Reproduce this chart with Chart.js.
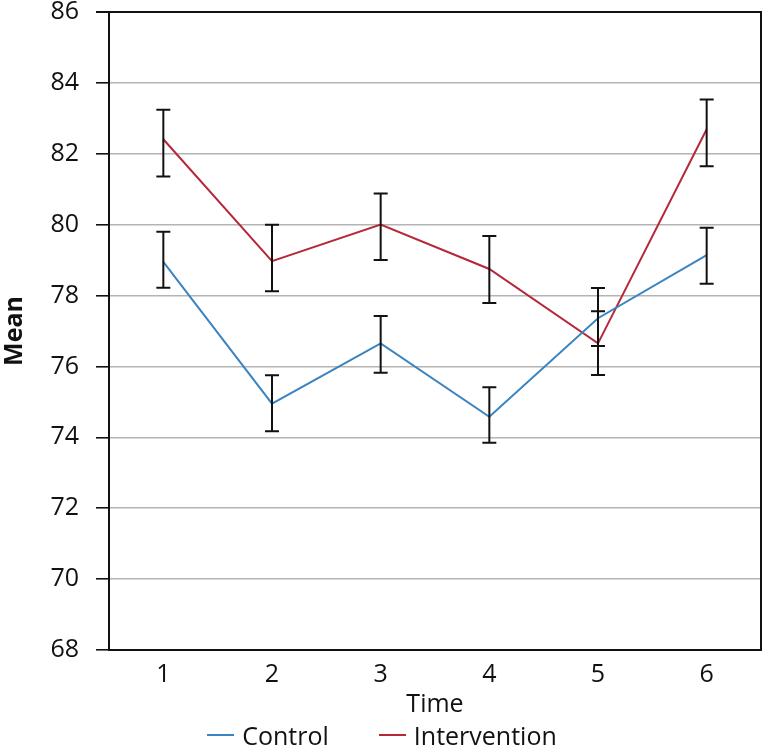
<!DOCTYPE html>
<html>
<head>
<meta charset="utf-8">
<script src="https://cdn.jsdelivr.net/npm/chart.js@4"></script>
<style>
  html, body { margin: 0; padding: 0; background: #fff; overflow: hidden; }
  #wrap { width: 762px; height: 747px; overflow: hidden; }
  #legend {
    display: flex; justify-content: center; align-items: center;
    height: 30px;
    font-family: 'Open Sans', 'Noto Sans', sans-serif; font-size: 25px; color: #111;
    line-height: 30px; transform: translateX(1px);
  }
  #legend .item { display: flex; align-items: center; margin: 0 25px; white-space: nowrap; }
  #legend .swatch { width: 27px; height: 2px; margin-right: 8px; }
</style>
</head>
<body>
<div id="wrap">
  <canvas id="meanChart" width="762" height="720"></canvas>
  <div id="legend"></div>
</div>
<script>
// time points
const timeLabels = ["1", "2", "3", "4", "5", "6"];

// group means
const controlMean = [78.95, 74.95, 76.65, 74.58, 77.36, 79.14];
const interventionMean = [82.41, 78.97, 80.0, 78.75, 76.65, 82.69];

// error bar ends (low / high)
const controlLow = [78.22, 74.17, 75.82, 73.85, 76.58, 78.33];
const controlHigh = [79.80, 75.75, 77.42, 75.41, 78.21, 79.91];
const interventionLow = [81.36, 78.12, 79.0, 77.79, 75.76, 81.65];
const interventionHigh = [83.24, 80.0, 80.88, 79.68, 77.56, 83.53];

const yTicks = [68, 70, 72, 74, 76, 78, 80, 82, 84, 86];

const FONT = "'Open Sans', 'Noto Sans', sans-serif";

// draws the whiskers and the box round the plot
const errorBars = {
    id: 'errorBars',
    afterDatasetsDraw(chart) {
        const ctx = chart.ctx;
        const x = chart.scales.x;
        const y = chart.scales.y;
        const sets = [[controlLow, controlHigh], [interventionLow, interventionHigh]];
        ctx.save();
        ctx.strokeStyle = '#111';
        ctx.lineWidth = 2;
        sets.forEach(([lo, hi]) => {
            lo.forEach((v, i) => {
                const px = x.getPixelForValue(i);
                const y1 = y.getPixelForValue(v);
                const y2 = y.getPixelForValue(hi[i]);
                ctx.beginPath();
                ctx.moveTo(px, y1); ctx.lineTo(px, y2);
                ctx.moveTo(px - 7, y1); ctx.lineTo(px + 7, y1);
                ctx.moveTo(px - 7, y2); ctx.lineTo(px + 7, y2);
                ctx.stroke();
            });
        });
        // top and right border
        const a = chart.chartArea;
        ctx.beginPath();
        ctx.moveTo(a.left, a.top);
        ctx.lineTo(a.right, a.top);
        ctx.lineTo(a.right, a.bottom);
        ctx.stroke();
        ctx.restore();
    }
};

const chart = new Chart(document.getElementById('meanChart').getContext('2d'), {
    type: 'line',
    data: {
        labels: timeLabels,
        datasets: [
            {
                label: 'Control',
                data: controlMean,
                borderColor: '#3a84c1',
                backgroundColor: '#3a84c1',
                borderWidth: 2,
                pointRadius: 0,
                tension: 0
            },
            {
                label: 'Intervention',
                data: interventionMean,
                borderColor: '#b5283a',
                backgroundColor: '#b5283a',
                borderWidth: 2,
                pointRadius: 0,
                tension: 0
            }
        ]
    },
    options: {
        responsive: false,
        animation: false,
        layout: { padding: { top: 12, right: 1, left: 0, bottom: 0 } },
        plugins: {
            tooltip: { enabled: false },
            legend: { display: false }
        },
        scales: {
            x: {
                offset: true,
                afterFit(scale) { scale.height = 70; },
                grid: { display: false },
                border: { display: true, color: '#111', width: 2 },
                ticks: { color: '#111', font: { family: FONT, size: 25 }, padding: 2 },
                title: {
                    display: true,
                    text: 'Time',
                    color: '#111',
                    font: { family: FONT, size: 25 },
                    padding: { top: 0, bottom: 0 }
                }
            },
            y: {
                min: 68,
                max: 86,
                afterBuildTicks(scale) {
                    scale.ticks = yTicks.map(v => ({ value: v }));
                },
                afterFit(scale) {
                    scale.width = 109;
                    scale.paddingTop = 0;
                    scale.paddingBottom = 0;
                },
                grid: {
                    color: ctx => ctx.tick && ctx.tick.value === 86 ? '#111' : '#b4b4b4',
                    lineWidth: ctx => ctx.tick && ctx.tick.value === 86 ? 2 : 1.6,
                    tickColor: '#111',
                    tickLength: 13,
                    drawTicks: true
                },
                border: { display: true, color: '#111', width: 2 },
                ticks: { color: '#111', font: { family: FONT, size: 25 }, padding: 17 },
                title: {
                    display: true,
                    text: 'Mean',
                    color: '#111',
                    font: { family: FONT, size: 25, weight: 'bold' },
                    padding: 0
                }
            }
        }
    },
    plugins: [errorBars]
});

// html legend built from the chart's datasets
const legendEl = document.getElementById('legend');
legendEl.innerHTML = chart.data.datasets.map(ds =>
    `<span class="item"><span class="swatch" style="background:${ds.borderColor}"></span>${ds.label}</span>`
).join('');
</script>
</body>
</html>
